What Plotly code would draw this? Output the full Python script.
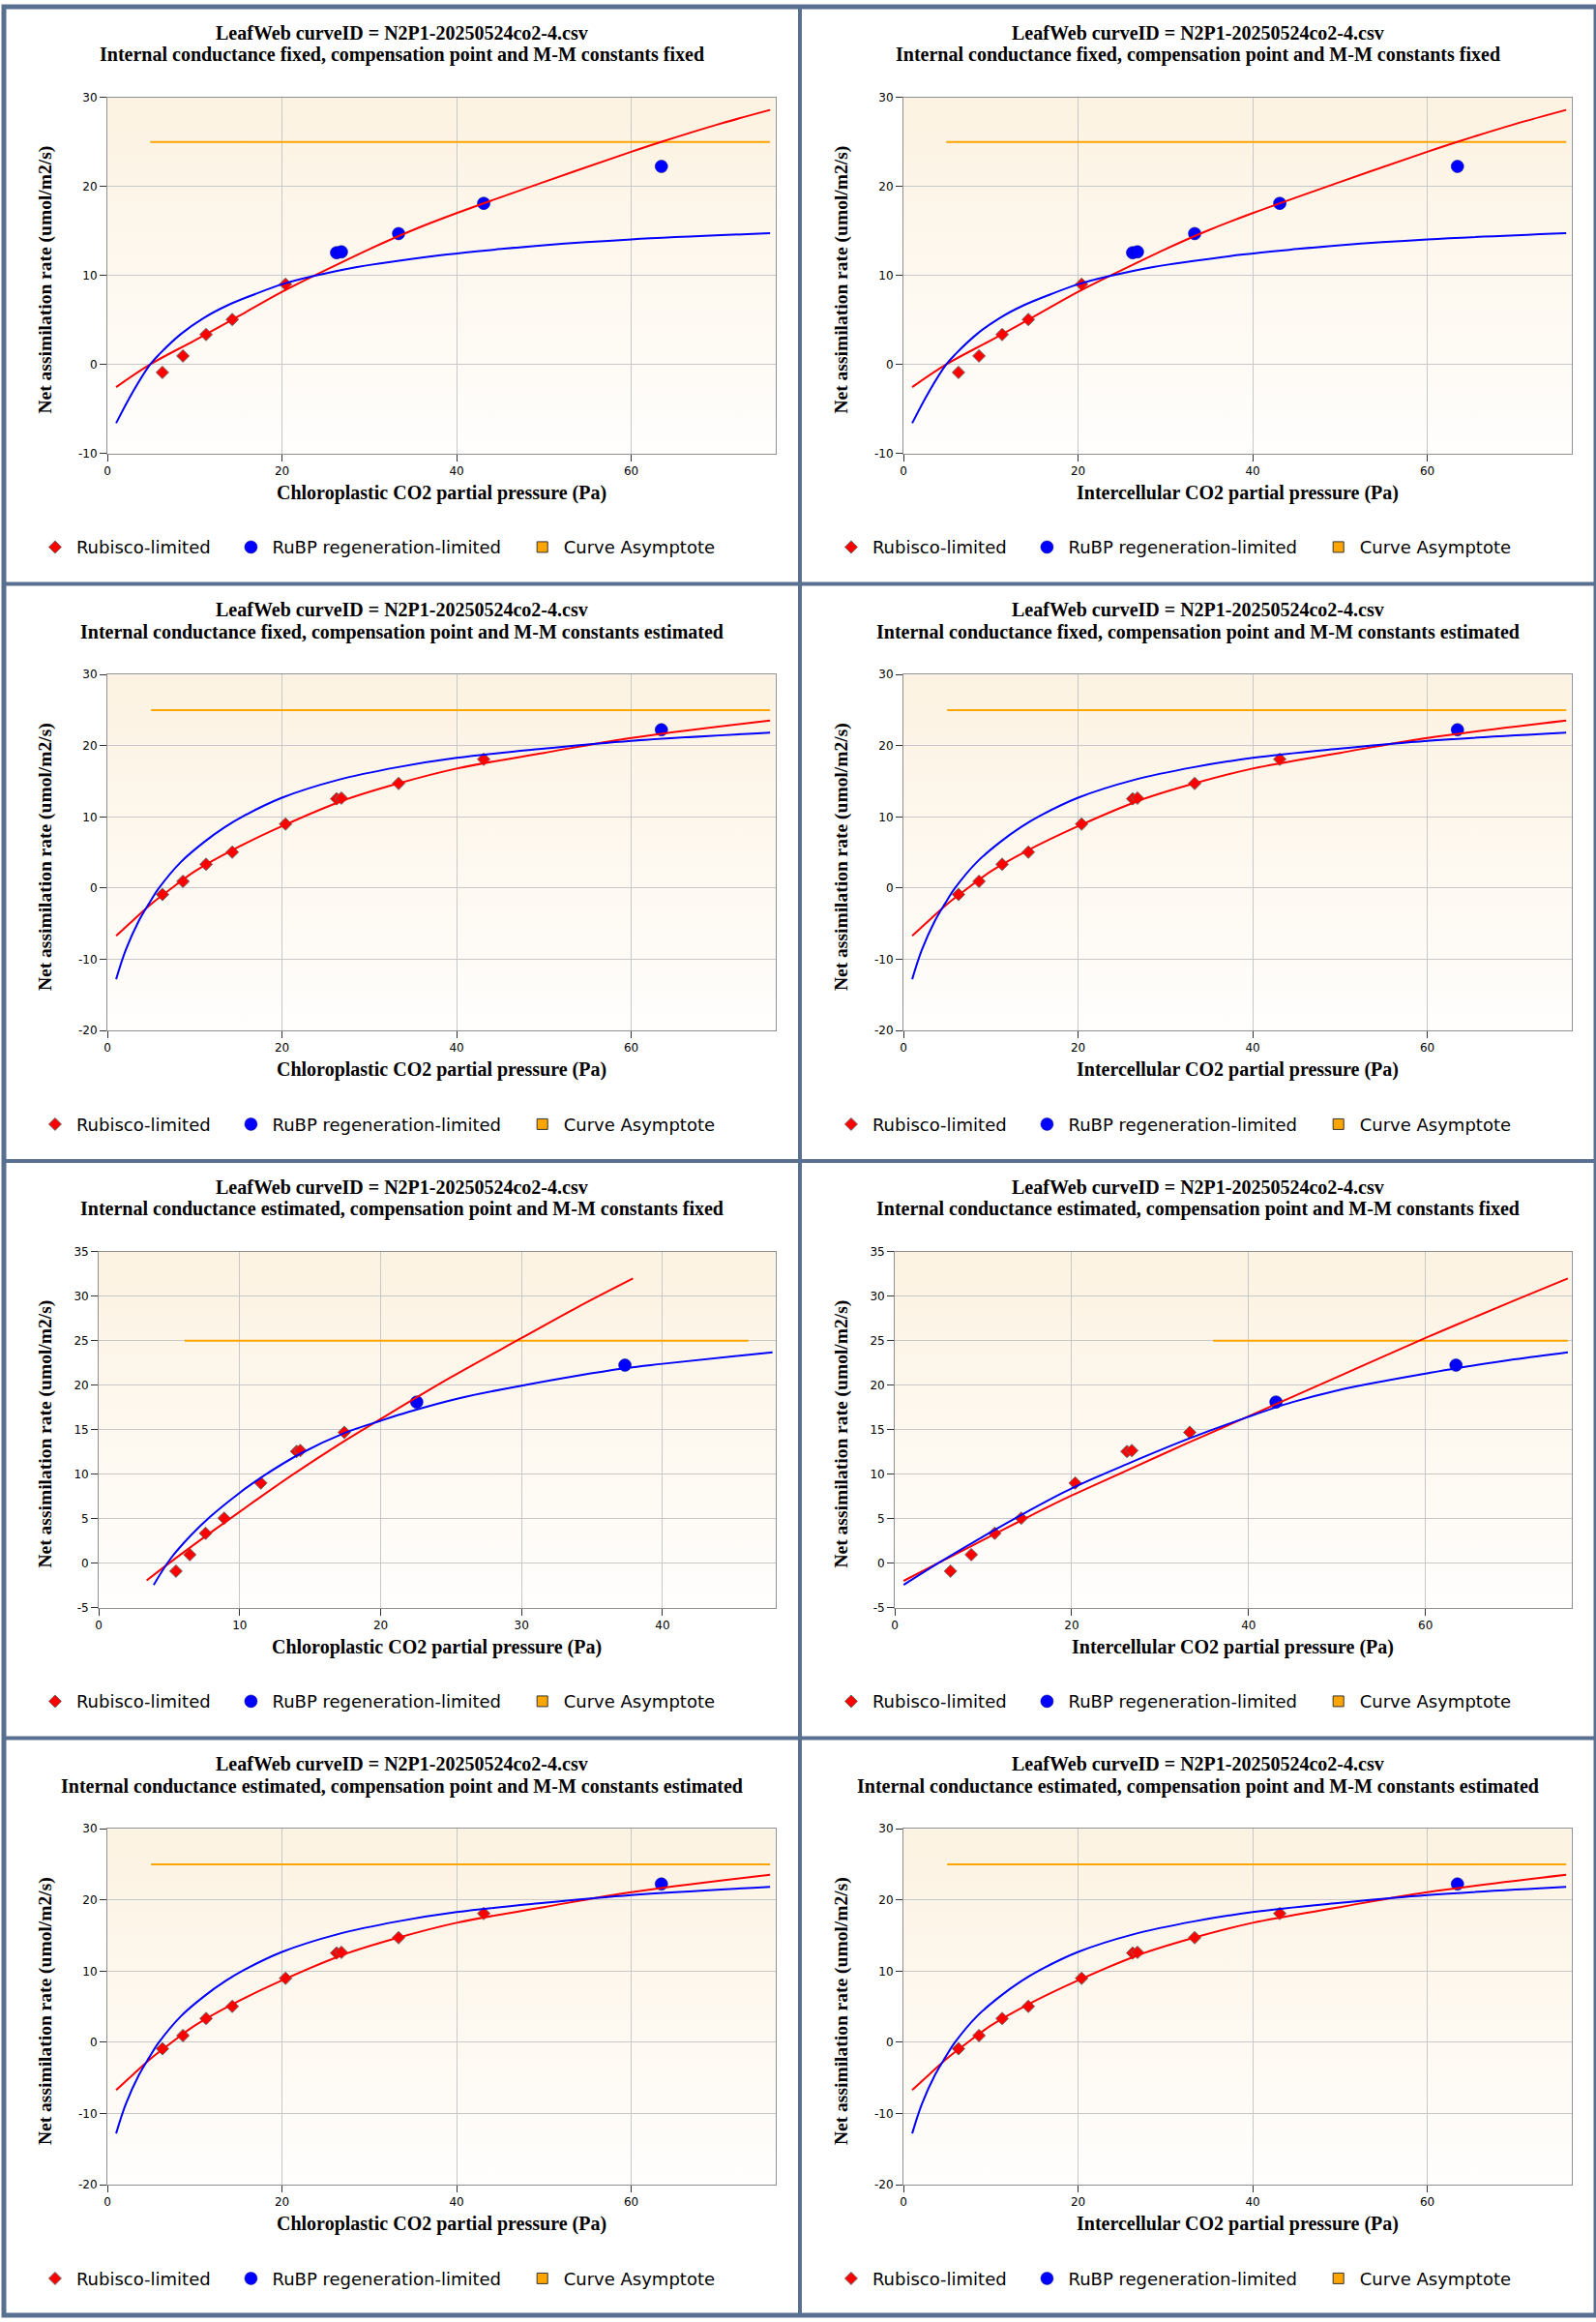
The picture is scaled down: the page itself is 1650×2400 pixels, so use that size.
import base64
import plotly.graph_objects as go

FIG_W, FIG_H = 1650, 2400
PANEL_W, PANEL_H = 825, 600

CURVE_ID = "LeafWeb curveID = N2P1-20250524co2-4.csv"
Y_LABEL = "Net assimilation rate (umol/m2/s)"
X_LABEL_CC = "Chloroplastic CO2 partial pressure (Pa)"
X_LABEL_CI = "Intercellular CO2 partial pressure (Pa)"
SUBTITLES = [
    "Internal conductance fixed, compensation point and M-M constants fixed",
    "Internal conductance fixed, compensation point and M-M constants estimated",
    "Internal conductance estimated, compensation point and M-M constants fixed",
    "Internal conductance estimated, compensation point and M-M constants estimated",
]
LEGEND_NAMES = ["Rubisco-limited", "RuBP regeneration-limited", "Curve Asymptote"]

# observed points
A_OBS = [-0.9, 0.95, 3.35, 5.05, 9.0, 12.55, 12.65, 14.7, 18.1, 22.25]
CI_OBS = [6.3, 8.65, 11.3, 14.3, 20.4, 26.25, 26.8, 33.35, 43.1, 63.45]
CC_OBS_GI_EST = [5.48, 6.46, 7.58, 8.9, 11.5, 14.04, 14.3, 17.42, 22.56, 37.33]

# which process limits each point, per fit
LIMIT_FIT1 = ["Rubisco"] * 5 + ["RuBP"] * 5
LIMIT_FIT2 = ["Rubisco"] * 9 + ["RuBP"] * 1
LIMIT_FIT3 = ["Rubisco"] * 8 + ["RuBP"] * 2

# fitted curves
FIT1_WC_X = [1.0, 4.9, 10, 15, 20, 25, 30, 35, 40, 50, 60, 63.4, 70, 75.9]
FIT1_WC_Y = [-2.55, 0.0, 2.7, 5.4, 8.15, 10.6, 12.95, 15.1, 17.0, 20.5, 23.9, 25.0, 27.0, 28.6]
FIT1_WJ_X = [1.0, 2.9, 4.9, 6.0, 8.4, 11.0, 13.9, 16.9, 20, 23.5, 28.6, 33.4, 38.9, 44.4, 50, 60, 75.9]
FIT1_WJ_Y = [-6.6, -3.1, 0.0, 1.2, 3.4, 5.2, 6.7, 7.9, 9.0, 9.9, 10.95, 11.65, 12.35, 12.9, 13.4, 14.05, 14.75]
FIT1_ASYM_X = [4.9, 75.9]

FIT2_WC_X = [1.0, 3, 5, 7, 10, 14, 20, 27, 33, 40, 50, 60, 75.9]
FIT2_WC_Y = [-6.7, -4.45, -2.25, -0.35, 2.35, 5.15, 8.7, 12.3, 14.6, 16.8, 19.0, 21.1, 23.55]
FIT2_WJ_X = [1.0, 2.1, 3.6, 4.75, 5.9, 8.4, 11, 13.5, 15.7, 20, 26.4, 33.3, 40, 50, 60, 75.9]
FIT2_WJ_Y = [-12.8, -8.7, -4.6, -2.2, 0.0, 3.65, 6.4, 8.6, 10.2, 12.7, 15.2, 17.0, 18.3, 19.6, 20.7, 21.85]
FIT2_ASYM_X = [5.0, 75.9]

FIT3_WC_X = [3.4, 5, 8, 11, 14, 17, 20, 25, 30, 34, 37.9]
FIT3_WC_Y = [-1.95, 0.0, 3.5, 6.9, 10.2, 13.3, 16.2, 20.9, 25.3, 28.8, 32.0]
FIT3_WJ_X = [3.9, 5.1, 6.5, 7.9, 10, 11.5, 14.3, 17.4, 20, 22, 25.5, 30, 37.3, 40, 47.8]
FIT3_WJ_Y = [-2.45, 0.5, 3.05, 5.2, 7.9, 9.6, 12.3, 14.6, 16.0, 17.0, 18.5, 19.95, 21.9, 22.4, 23.7]
FIT3_ASYM_X = [6.1, 46.1]

FIT4_WC_X = [1.0, 5, 10, 15, 20, 26, 33, 40, 50, 60, 70, 76.1]
FIT4_WC_Y = [-2.0, 0.05, 2.6, 5.15, 7.6, 10.3, 13.45, 16.5, 20.9, 25.3, 29.5, 32.0]
FIT4_WJ_X = [1.0, 5, 10, 15, 20, 26.3, 33.4, 40, 45, 50, 55, 60, 63.5, 70, 76.1]
FIT4_WJ_Y = [-2.45, 0.05, 3.0, 5.8, 8.4, 11.15, 14.05, 16.45, 18.1, 19.4, 20.4, 21.3, 21.9, 22.9, 23.7]
FIT4_ASYM_X = [36.0, 76.1]

ASYMPTOTE = 25

X_TICKS_WIDE = [0, 20, 40, 60]
X_TICKS_NARROW = [0, 10, 20, 30, 40]
Y_TICKS_FIT1 = [-10, 0, 10, 20, 30]
Y_TICKS_FIT2 = [-20, -10, 0, 10, 20, 30]
Y_TICKS_FIT3 = [-5, 0, 5, 10, 15, 20, 25, 30, 35]

fit1 = dict(wc=(FIT1_WC_X, FIT1_WC_Y), wj=(FIT1_WJ_X, FIT1_WJ_Y), asym=FIT1_ASYM_X,
            yr=[-10, 30], yt=Y_TICKS_FIT1)
fit2 = dict(wc=(FIT2_WC_X, FIT2_WC_Y), wj=(FIT2_WJ_X, FIT2_WJ_Y), asym=FIT2_ASYM_X,
            yr=[-20, 30], yt=Y_TICKS_FIT2)
fit3 = dict(wc=(FIT3_WC_X, FIT3_WC_Y), wj=(FIT3_WJ_X, FIT3_WJ_Y), asym=FIT3_ASYM_X,
            yr=[-5, 35], yt=Y_TICKS_FIT3)
fit4 = dict(wc=(FIT4_WC_X, FIT4_WC_Y), wj=(FIT4_WJ_X, FIT4_WJ_Y), asym=FIT4_ASYM_X,
            yr=[-5, 35], yt=Y_TICKS_FIT3)

panels = [
    dict(sub=SUBTITLES[0], xl=X_LABEL_CC, xs=CI_OBS, lim=LIMIT_FIT1, fit=fit1, xr=[0, 76.5], xt=X_TICKS_WIDE),
    dict(sub=SUBTITLES[0], xl=X_LABEL_CI, xs=CI_OBS, lim=LIMIT_FIT1, fit=fit1, xr=[0, 76.5], xt=X_TICKS_WIDE),
    dict(sub=SUBTITLES[1], xl=X_LABEL_CC, xs=CI_OBS, lim=LIMIT_FIT2, fit=fit2, xr=[0, 76.5], xt=X_TICKS_WIDE),
    dict(sub=SUBTITLES[1], xl=X_LABEL_CI, xs=CI_OBS, lim=LIMIT_FIT2, fit=fit2, xr=[0, 76.5], xt=X_TICKS_WIDE),
    dict(sub=SUBTITLES[2], xl=X_LABEL_CC, xs=CC_OBS_GI_EST, lim=LIMIT_FIT3, fit=fit3, xr=[0, 48.0], xt=X_TICKS_NARROW),
    dict(sub=SUBTITLES[2], xl=X_LABEL_CI, xs=CI_OBS, lim=LIMIT_FIT3, fit=fit4, xr=[0, 76.5], xt=X_TICKS_WIDE),
    dict(sub=SUBTITLES[3], xl=X_LABEL_CC, xs=CI_OBS, lim=LIMIT_FIT2, fit=fit2, xr=[0, 76.5], xt=X_TICKS_WIDE),
    dict(sub=SUBTITLES[3], xl=X_LABEL_CI, xs=CI_OBS, lim=LIMIT_FIT2, fit=fit2, xr=[0, 76.5], xt=X_TICKS_WIDE),
]

SERIF = "Liberation Serif, Times New Roman, serif"
SANS = "DejaVu Sans, Verdana, sans-serif"
BORDER = "#5a7091"

# x of each legend symbol inside a panel
LEGEND_SYMBOL_X = [55, 258, 560]

grad_svg = (
    '<svg xmlns="http://www.w3.org/2000/svg" width="10" height="100" preserveAspectRatio="none">'
    '<defs><linearGradient id="g" x1="0" y1="0" x2="0" y2="1">'
    '<stop offset="0" stop-color="#fcf2e1"/><stop offset="1" stop-color="#fffefd"/>'
    '</linearGradient></defs><rect width="10" height="100" fill="url(#g)"/></svg>'
)
grad_uri = "data:image/svg+xml;base64," + base64.b64encode(grad_svg.encode()).decode()


def fx(px):
    return px / FIG_W


def fy(px):
    return 1 - px / FIG_H


def legend_key(k):
    return "legend" if k == 1 else f"legend{k}"


fig = go.Figure()
layout = {}
annotations = []
images = []

for i, p in enumerate(panels):
    n = i + 1
    sfx = "" if n == 1 else str(n)
    xref, yref = "x" + sfx, "y" + sfx
    legs = [legend_key(i * 3 + k + 1) for k in range(3)]
    col, row = i % 2, i // 2
    x0, y0 = col * PANEL_W, row * PANEL_H
    f = p["fit"]

    narrow = f["yr"][0] == -5
    left = x0 + (98.3 if narrow else 107.3)
    right = x0 + 799.5
    top = y0 + 94.3
    bottom = y0 + 464.3

    rub_x = [x for x, l in zip(p["xs"], p["lim"]) if l == "Rubisco"]
    rub_y = [a for a, l in zip(A_OBS, p["lim"]) if l == "Rubisco"]
    rj_x = [x for x, l in zip(p["xs"], p["lim"]) if l == "RuBP"]
    rj_y = [a for a, l in zip(A_OBS, p["lim"]) if l == "RuBP"]

    fig.add_trace(go.Scatter(
        x=rub_x, y=rub_y, mode="markers", name=LEGEND_NAMES[0],
        marker=dict(symbol="diamond", size=10, color="#ff0000", line=dict(color="#6b6b6b", width=1)),
        xaxis=xref, yaxis=yref, legend=legs[0]))
    fig.add_trace(go.Scatter(
        x=rj_x, y=rj_y, mode="markers", name=LEGEND_NAMES[1],
        marker=dict(symbol="circle", size=13, color="#0000ff", line=dict(color="#00008b", width=0.5)),
        xaxis=xref, yaxis=yref, legend=legs[1]))
    fig.add_trace(go.Scatter(
        x=[None], y=[None], mode="markers", name=LEGEND_NAMES[2],
        marker=dict(symbol="square", size=11, color="#ffa500", line=dict(color="#333333", width=1)),
        xaxis=xref, yaxis=yref, legend=legs[2]))

    fig.add_trace(go.Scatter(
        x=f["asym"], y=[ASYMPTOTE] * len(f["asym"]), mode="lines", showlegend=False,
        line=dict(color="#ffa500", width=2), xaxis=xref, yaxis=yref, hoverinfo="skip"))
    fig.add_trace(go.Scatter(
        x=f["wc"][0], y=f["wc"][1], mode="lines", showlegend=False,
        line=dict(color="#ff0000", width=2, shape="spline", smoothing=1.0),
        xaxis=xref, yaxis=yref))
    fig.add_trace(go.Scatter(
        x=f["wj"][0], y=f["wj"][1], mode="lines", showlegend=False,
        line=dict(color="#0000ff", width=2, shape="spline", smoothing=1.0),
        xaxis=xref, yaxis=yref))

    axis_common = dict(
        showline=True, linecolor="#8f8f8f", linewidth=1, mirror=True,
        ticks="outside", ticklen=7, tickcolor="#333333",
        showgrid=True, gridcolor="#c8c8c8", gridwidth=1, zeroline=False,
        tickfont=dict(family=SANS, size=12, color="#000000"),
        fixedrange=True,
    )
    layout["xaxis" + sfx] = dict(
        axis_common, domain=[fx(left), fx(right)], anchor=yref, range=p["xr"],
        tickvals=p["xt"], ticktext=[str(v) for v in p["xt"]])
    layout["yaxis" + sfx] = dict(
        axis_common, domain=[fy(bottom), fy(top)], anchor=xref, range=f["yr"],
        tickvals=f["yt"], ticktext=[str(v) for v in f["yt"]])
    for leg, sx in zip(legs, LEGEND_SYMBOL_X):
        layout[leg] = dict(
            orientation="h", x=fx(x0 + sx - 24), xanchor="left", y=fy(y0 + 562), yanchor="middle",
            font=dict(family=SANS, size=18, color="#000000"), bgcolor="rgba(0,0,0,0)",
            itemwidth=34, itemclick=False, itemdoubleclick=False)

    images.append(dict(
        source=grad_uri, xref="paper", yref="paper", x=fx(left), y=fy(top),
        sizex=fx(right) - fx(left), sizey=fy(top) - fy(bottom),
        sizing="stretch", layer="below", xanchor="left", yanchor="top"))

    title_font = dict(family=SERIF, size=20, color="#000000")
    cx = x0 + PANEL_W / 2
    annotations += [
        dict(text="<b>" + CURVE_ID + "</b>", x=fx(cx), y=fy(y0 + 27), xref="paper", yref="paper",
             showarrow=False, xanchor="center", yanchor="middle", font=title_font),
        dict(text="<b>" + p["sub"] + "</b>", x=fx(cx), y=fy(y0 + 50), xref="paper", yref="paper",
             showarrow=False, xanchor="center", yanchor="middle", font=title_font),
        dict(text="<b>" + p["xl"] + "</b>", x=fx((left + right) / 2), y=fy(y0 + 505),
             xref="paper", yref="paper", showarrow=False, xanchor="center", yanchor="middle",
             font=title_font),
        dict(text="<b>" + Y_LABEL + "</b>", x=fx(x0 + 43), y=fy((top + bottom) / 2 + 4),
             xref="paper", yref="paper", showarrow=False, xanchor="center", yanchor="middle",
             textangle=-90, font=dict(family=SERIF, size=19.5, color="#000000")),
    ]

shapes = [dict(type="rect", xref="paper", yref="paper", x0=0, x1=1, y0=0, y1=1,
               line=dict(color=BORDER, width=5))]
shapes.append(dict(type="line", xref="paper", yref="paper", x0=0.5, x1=0.5, y0=0, y1=1,
                   line=dict(color=BORDER, width=4)))
for r in (1, 2, 3):
    shapes.append(dict(type="line", xref="paper", yref="paper", x0=0, x1=1,
                       y0=fy(r * PANEL_H), y1=fy(r * PANEL_H), line=dict(color=BORDER, width=4)))

fig.update_layout(
    width=FIG_W, height=FIG_H, margin=dict(l=0, r=0, t=0, b=0),
    paper_bgcolor="#ffffff", plot_bgcolor="rgba(0,0,0,0)",
    annotations=annotations, images=images, shapes=shapes,
    showlegend=True, hovermode="closest",
    **layout,
)

fig.write_html(
    "out.html",
    config={"displayModeBar": False},
    post_script="document.body.style.margin='0';document.body.style.padding='0';",
)
